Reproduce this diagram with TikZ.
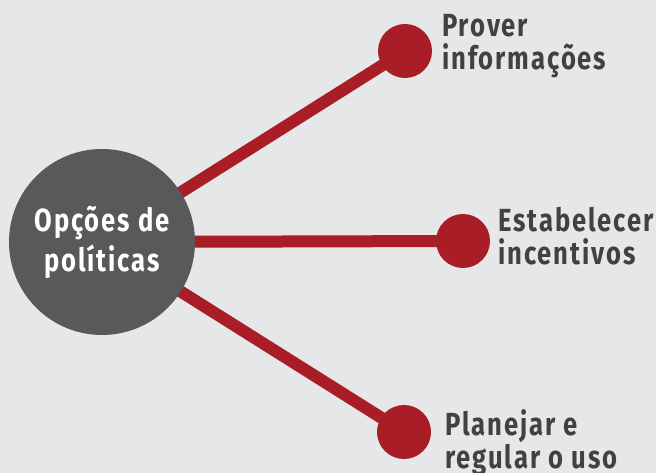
\documentclass[tikz,border=0pt]{standalone}
\usepackage{fontspec}
\setmainfont{Fira Sans}[FakeStretch=0.8,LetterSpace=6]
\definecolor{bggray}{HTML}{E6E7E8}
\definecolor{hubgray}{HTML}{58595B}
\definecolor{spokered}{HTML}{A91D27}
\definecolor{labelgray}{HTML}{414042}
\pgfdeclarelayer{bg}
\pgfdeclarelayer{links}
\pgfsetlayers{bg,links,main}
\tikzset{
  hubnode/.style={circle,fill=hubgray,minimum size=186pt,inner sep=0pt,
    text=white,align=center,font=\fontsize{32}{40}\selectfont\bfseries},
  dotnode/.style={circle,fill=spokered,minimum size=54pt,inner sep=0pt},
  spoke/.style={draw=spokered,line width=12pt},
  labelnode/.style={anchor=base west,inner sep=0pt,align=left,text=labelgray,
    font=\fontsize{32}{33}\selectfont\bfseries}
}
\begin{document}
\begin{tikzpicture}[x=1pt,y=-1pt]
          \useasboundingbox (0,0) rectangle (656,473);
          \begin{pgfonlayer}{bg}
            \fill[bggray] (0,0) rectangle (656,473);
          \end{pgfonlayer}
          \node[hubnode] (hub) at (102,242) {Opções de\\políticas};
          \node[dotnode] (info) at (405,51) {};
          \node[dotnode] (incent) at (463,241) {};
          \node[dotnode] (regul) at (404,432) {};
          \node[labelnode] (infotxt) at (442,70) {Prover\\informações};
          \node[labelnode] (incenttxt) at (498,265) {Estabelecer\\incentivos};
          \node[labelnode] (regultxt) at (445,468) {Planejar e\\regular o uso};
          \begin{pgfonlayer}{links}
            \draw[spoke] (hub.center) -- (info.center);
            \draw[spoke] (hub.center) -- (incent.center);
            \draw[spoke] (hub.center) -- (regul.center);
          \end{pgfonlayer}
        \end{tikzpicture}
\end{document}
